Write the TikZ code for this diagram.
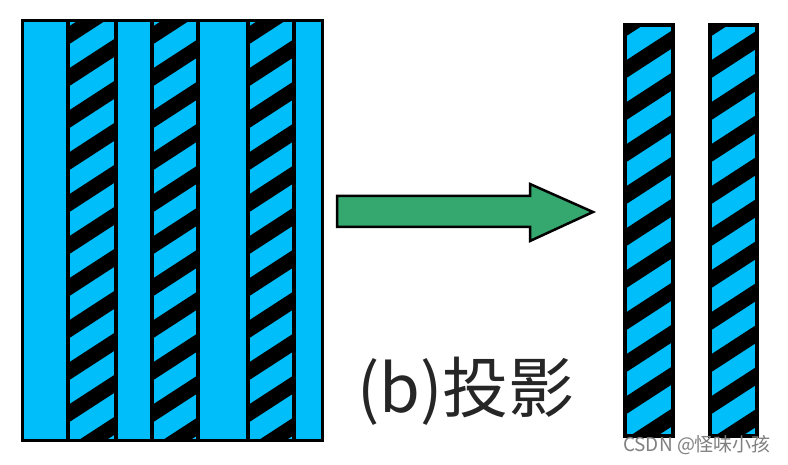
\documentclass[tikz,border=0pt]{standalone}
\usepackage{fontspec}
\newfontfamily\cjk{Noto Sans CJK SC}
\definecolor{cy}{RGB}{0,190,250}
\definecolor{gr}{RGB}{52,168,110}
\tikzset{
  hatchline/.style={line width=15pt, black},
  stripeborder/.style={line width=4.5pt, black},
  labeltext/.style={font=\cjk\fontsize{66}{66}\selectfont, text=black!85, inner sep=0pt},
  marktext/.style={font=\cjk\fontsize{19}{19}\selectfont, text=black!50, inner sep=0pt}
}
\begin{document}
\begin{tikzpicture}[x=1pt,y=-1pt]
\useasboundingbox (0,0) rectangle (788,465);
\fill[white] (0,0) rectangle (788,465);
% left block
\fill[cy] (22,21) rectangle (322,440);
\foreach \a/\b in {68/116,152/198,248/294}{
  \begin{scope}
    \clip (\a,21) rectangle (\b,440);
    \foreach \k in {-2,...,12}{
      \draw[hatchline] ({\a-10},{36+\k*42+6.5}) -- ({\b+10},{36+\k*42-(\b-\a+10)*0.65});
    }
  \end{scope}
  \draw[stripeborder] (\a,21) -- (\a,440) (\b,21) -- (\b,440);
}
\draw[line width=3pt] (22,21) rectangle (322,440);
% right strips
\foreach \a/\b in {625/673,710/757}{
  \fill[cy] (\a,25) rectangle (\b,436);
  \begin{scope}
    \clip (\a,25) rectangle (\b,436);
    \foreach \k in {-2,...,12}{
      \draw[hatchline] ({\a-10},{28+\k*42+6.5}) -- ({\b+10},{28+\k*42-(\b-\a+10)*0.65});
    }
  \end{scope}
  \draw[stripeborder] (\a,25) rectangle (\b,436);
}
% arrow
\draw[fill=gr, line width=2.5pt, line join=miter]
  (337,196) -- (530,196) -- (530,184) -- (593,212) -- (530,241) -- (530,227) -- (337,227) -- cycle;
% label
\node[labeltext] (lbl) at (466,391) {(b)投影};
\node[marktext] (mark) at (697,445) {CSDN @怪味小孩};
\end{tikzpicture}
\end{document}
